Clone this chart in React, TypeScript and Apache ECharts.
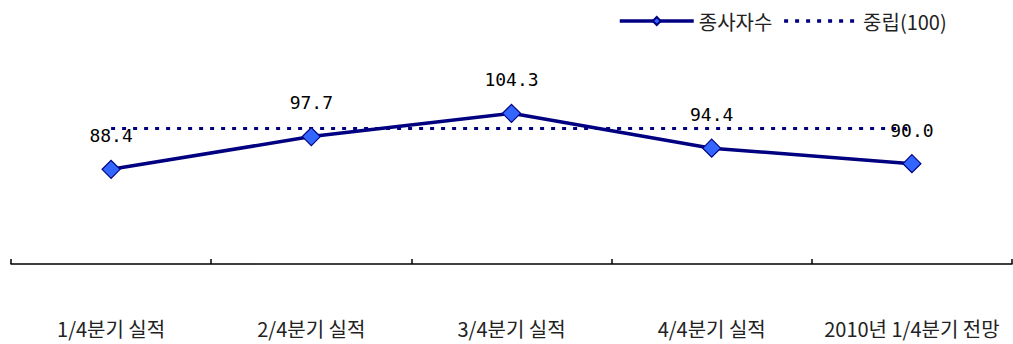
import React, { useEffect, useRef } from "react";
import * as echarts from "echarts";

const categories = ["1/4분기 실적", "2/4분기 실적", "3/4분기 실적", "4/4분기 실적", "2010년 1/4분기 전망"];
const employeeValues = [88.4, 97.7, 104.3, 94.4, 90.0];
const neutralValues = [100, 100, 100, 100, 100];
const seriesNames = ["종사자수", "중립(100)"];

export default function App() {
  const ref = useRef<HTMLDivElement>(null);
  useEffect(() => {
    if (!ref.current) return;
    const chart = echarts.init(ref.current, undefined, { renderer: "svg" });
    chart.setOption({
      animation: false,
      backgroundColor: "#ffffff",
      textStyle: { fontFamily: "Noto Sans CJK KR" },
      legend: {
        data: [
          { name: seriesNames[0], lineStyle: { width: 3.5 } },
          { name: seriesNames[1], itemStyle: { opacity: 0 }, lineStyle: { width: 3.5, type: [4, 7] } },
        ],
        left: 618,
        top: 11,
        padding: 0,
        itemWidth: 74,
        itemHeight: 10,
        itemGap: 10,
        textStyle: { fontSize: 20, color: "#222", fontFamily: "Noto Sans CJK KR" },
      },
      grid: { left: 11, right: 1, top: 52.8, bottom: 80 },
      xAxis: {
        type: "category",
        data: categories,
        boundaryGap: true,
        axisLine: { lineStyle: { color: "#000", width: 1.5 } },
        axisTick: { show: true, inside: true, length: 5, lineStyle: { color: "#000", width: 1.5 } },
        axisLabel: { interval: 0, margin: 54, fontSize: 20, color: "#222", fontFamily: "Noto Sans CJK KR" },
      },
      yAxis: {
        type: "value",
        min: 61.5,
        max: 121.5,
        show: false,
        splitLine: { show: false },
      },
      series: [
        {
          name: seriesNames[0],
          type: "line",
          data: employeeValues,
          symbol: "diamond",
          symbolSize: 18,
          z: 3,
          lineStyle: { color: "#000080", width: 3.5 },
          itemStyle: { color: "#3366FF", borderColor: "#000080", borderWidth: 1.2 },
          label: {
            show: true,
            position: "top",
            distance: 15,
            formatter: (p: any) => p.value.toFixed(1),
            fontSize: 18,
            color: "#000",
            fontFamily: "DejaVu Sans Mono",
          },
          emphasis: { disabled: true },
        },
        {
          name: seriesNames[1],
          type: "line",
          data: neutralValues,
          symbol: "none",
          z: 2,
          lineStyle: { color: "#000080", width: 3, type: [4, 7] },
          itemStyle: { color: "#000080" },
          emphasis: { disabled: true },
        },
      ],
    });
    return () => chart.dispose();
  }, []);
  return <div ref={ref} style={{ position: "fixed", left: 0, top: 0, width: 1013, height: 344 }} />;
}
